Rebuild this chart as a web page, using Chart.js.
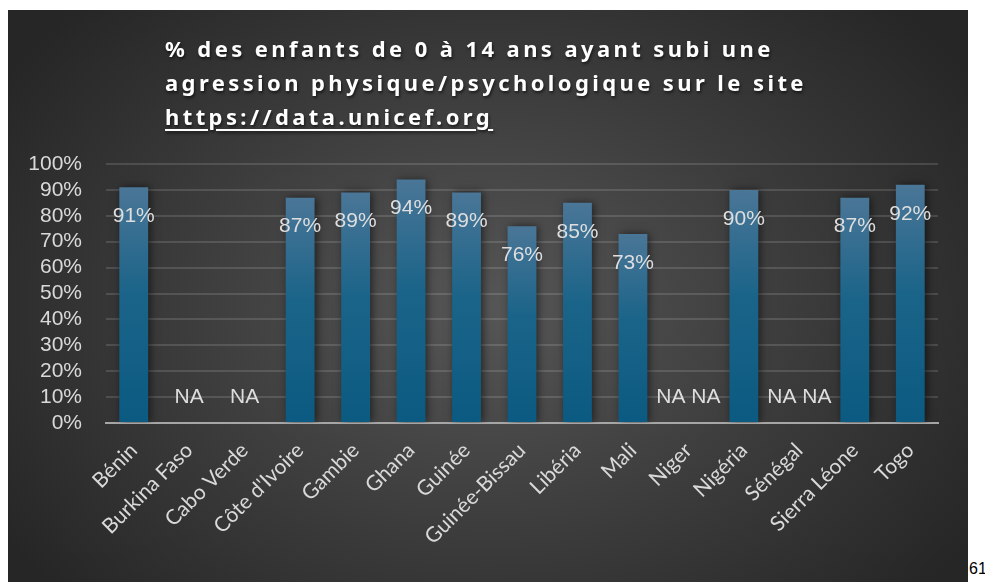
<!DOCTYPE html>
<html>
<head>
    <meta charset="utf-8">
    <title>Agression physique/psychologique - enfants 0 à 14 ans</title>
    <script src="https://cdn.jsdelivr.net/npm/chart.js@4.4.0/dist/chart.umd.min.js"></script>
    <style>
        body { margin: 0; background: #ffffff; width: 985px; height: 582px; overflow: hidden; position: relative; }
        #box {
            position: absolute; left: 8px; top: 10px; width: 960px; height: 572px;
            background: radial-gradient(ellipse 60% 75% at 50% 52%, #565656 0%, #3b3b3b 55%, #262626 100%);
        }
        #titre {
            position: absolute; left: 157px; top: 21px;
            font-family: "Noto Sans", sans-serif; font-weight: bold; font-size: 22px;
            letter-spacing: 3.4px; line-height: 34px; color: #ffffff;
            text-shadow: 1px 2px 3px rgba(0,0,0,0.6);
        }
        #titre u { text-underline-offset: 4px; text-decoration-thickness: 2px; }
        #page { position: absolute; left: 969px; top: 560px; font-family: "Liberation Sans", sans-serif; font-size: 16px; color: #000; }
        canvas { position: absolute; left: 0; top: 0; }
    </style>
</head>
<body>
    <div id="box">
        <canvas id="graphique" width="960" height="572"></canvas>
        <div id="titre">% des enfants de 0 à 14 ans ayant subi une<br>agression physique/psychologique sur le site<br><u>https://data.unicef.org</u></div>
    </div>
    <div id="page">61</div>

    <script>
        // Données (null = pas de donnée)
        var pays = ['Bénin', 'Burkina Faso', 'Cabo Verde', "Côte d'Ivoire", 'Gambie', 'Ghana', 'Guinée',
                    'Guinée-Bissau', 'Libéria', 'Mali', 'Niger', 'Nigéria', 'Sénégal', 'Sierra Léone', 'Togo'];
        var pourcentages = [91, null, null, 87, 89, 94, 89, 76, 85, 73, null, 90, null, 87, 92];
        // texte affiché à la place des valeurs manquantes
        var textesNA = [null, 'NA', 'NA', null, null, null, null, null, null, null, 'NA NA', null, 'NA NA', null, null];
        var graduations = [0, 10, 20, 30, 40, 50, 60, 70, 80, 90, 100];

        // Dégradé vertical pour chaque barre
        function degradeBarre(context) {
            var chart = context.chart;
            var v = context.raw;
            if (!chart.chartArea || v == null) return '#1a6287';
            var y = chart.scales.y;
            var haut = y.getPixelForValue(v);
            var bas = y.getPixelForValue(0);
            var g = chart.ctx.createLinearGradient(0, haut, 0, bas);
            g.addColorStop(0, '#4a7697');
            g.addColorStop(0.45, '#1b6489');
            g.addColorStop(1, '#0b5a81');
            return g;
        }

        // Ombre portée des barres
        var ombre = {
            id: 'ombre',
            beforeDatasetDraw: function(chart) {
                var ctx = chart.ctx;
                ctx.save();
                ctx.shadowColor = 'rgba(0,0,0,0.55)';
                ctx.shadowBlur = 8;
                ctx.shadowOffsetX = 2;
            },
            afterDatasetDraw: function(chart) {
                chart.ctx.restore();
            }
        };

        // Étiquettes de valeurs (et NA pour les valeurs manquantes)
        var etiquettes = {
            id: 'etiquettes',
            afterDatasetsDraw: function(chart) {
                var ctx = chart.ctx;
                var meta = chart.getDatasetMeta(0);
                var y = chart.scales.y;
                ctx.save();
                ctx.font = '21px "Liberation Sans", Arial, sans-serif';
                ctx.fillStyle = '#dedede';
                ctx.textAlign = 'center';
                ctx.textBaseline = 'middle';
                pourcentages.forEach(function(v, i) {
                    var x = meta.data[i].x;
                    if (v == null) {
                        ctx.fillText(textesNA[i], x, y.getPixelForValue(10));
                    } else {
                        ctx.fillText(v + '%', x, y.getPixelForValue(v) + 29);
                    }
                });
                ctx.restore();
            }
        };

        var ctx = document.getElementById('graphique').getContext('2d');
        var chart = new Chart(ctx, {
            type: 'bar',
            data: {
                labels: pays,
                datasets: [{
                    data: pourcentages,
                    backgroundColor: degradeBarre,
                    borderWidth: 0,
                    barPercentage: 0.52,
                    categoryPercentage: 1
                }]
            },
            options: {
                responsive: false,
                animation: false,
                layout: { padding: { top: 154, right: 30, left: 0, bottom: 0 } },
                plugins: {
                    legend: { display: false },
                    tooltip: { enabled: false }
                },
                scales: {
                    x: {
                        grid: { display: false, drawTicks: false },
                        border: { display: true, color: '#a6a6a6', width: 2 },
                        ticks: {
                            color: '#d9d9d9',
                            font: { family: 'Lato', size: 21 },
                            minRotation: 45,
                            maxRotation: 45,
                            padding: 15,
                            autoSkip: false
                        },
                        afterFit: function(scale) { scale.height = 159; }
                    },
                    y: {
                        min: 0,
                        max: 100,
                        afterBuildTicks: function(scale) {
                            scale.ticks = graduations.map(function(v) { return { value: v }; });
                        },
                        grid: { color: 'rgba(255,255,255,0.13)', lineWidth: 2, drawTicks: false },
                        border: { display: false },
                        ticks: {
                            color: '#d9d9d9',
                            font: { family: '"Liberation Sans", Arial', size: 21 },
                            padding: 24,
                            autoSkip: false,
                            callback: function(v) { return v + '%'; }
                        },
                        afterFit: function(scale) { scale.width = 98; }
                    }
                }
            },
            plugins: [ombre, etiquettes]
        });
    </script>
</body>
</html>
